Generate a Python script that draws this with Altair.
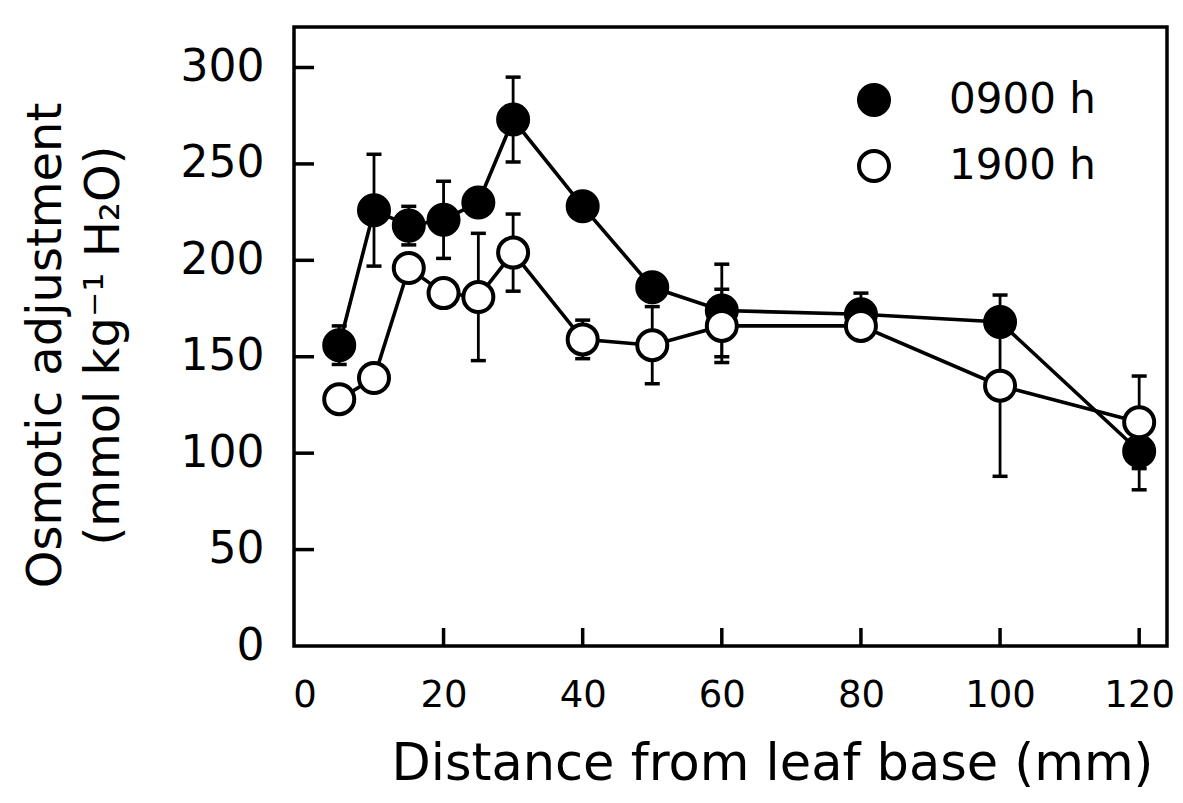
import altair as alt
import pandas as pd

# ---- data ----
distance = [5, 10, 15, 20, 25, 30, 40, 50, 60, 80, 100, 120]
am_mean = [156, 226, 218, 221, 230, 273, 228, 186, 174, 172, 168, 101]
am_err = [10, 29, 10, 20, 0, 22, 0, 0, 24, 11, 0, 20]
pm_mean = [128, 139, 196, 183, 181, 204, 159, 156, 166, 166, 135, 116]
pm_err = [0, 0, 0, 0, 33, 20, 10, 20, 19, 0, 47, 24]
series_names = ["0900 h", "1900 h"]
y_ticks = [50, 100, 150, 200, 250, 300]
x_ticks = [20, 40, 60, 80, 100, 120]

rows = []
for name, means, errs in [(series_names[0], am_mean, am_err), (series_names[1], pm_mean, pm_err)]:
    for d, m, e in zip(distance, means, errs):
        rows.append({"distance": d, "value": m, "err": e, "lo": m - e, "hi": m + e, "series": name})
df = pd.DataFrame(rows)
df_err = df[df["err"] > 0]

W, H = 873, 619
FONT = "DejaVu Sans"

xscale = alt.Scale(domain=[-1.5, 124], nice=False, zero=False)
yscale = alt.Scale(domain=[0, 321], nice=False, zero=False)

xaxis = alt.Axis(values=[0] + x_ticks, labelFontSize=37, labelFont=FONT, labelColor="black",
                 labelPadding=31, domain=False, ticks=False, tickSize=0, grid=False,
                 format="d", labelFlush=False,
                 title="Distance from leaf base (mm)", titleFont=FONT, titleFontSize=51,
                 titleFontWeight="normal", titleColor="black", titleX=478, titleY=133,
                 titleAlign="center", titleBaseline="alphabetic")
yaxis = alt.Axis(values=[0] + y_ticks, labelFontSize=44, labelFont=FONT, labelColor="black",
                 labelPadding=30, domain=False, ticks=False, tickSize=0, grid=False,
                 format="d", labelFlush=False,
                 title=["Osmotic adjustment", "(mmol kg\u207b\u00b9 H\u2082O)"], titleFont=FONT,
                 titleFontSize=48, titleFontWeight="normal", titleColor="black",
                 titleX=-248, titleY=318, titleAngle=270, titleAlign="center",
                 titleBaseline="middle", titleLineHeight=58)


def X(field):
    return alt.X(field, scale=xscale, axis=xaxis)


def Y(field):
    return alt.Y(field, scale=yscale, axis=yaxis)


base = alt.Chart(df)

lines = base.mark_line(color="black", strokeWidth=3.6).encode(
    x=X("distance:Q"), y=Y("value:Q"), detail="series:N",
)

err_rules = alt.Chart(df_err).mark_rule(color="black", strokeWidth=2.8).encode(
    x=X("distance:Q"), y=Y("lo:Q"), y2="hi:Q",
)
cap_lo = alt.Chart(df_err).mark_tick(color="black", orient="horizontal", size=15, thickness=3.5, opacity=1).encode(
    x=X("distance:Q"), y=Y("lo:Q"),
)
cap_hi = alt.Chart(df_err).mark_tick(color="black", orient="horizontal", size=15, thickness=3.5, opacity=1).encode(
    x=X("distance:Q"), y=Y("hi:Q"),
)

points = base.mark_point(shape="circle", filled=True, size=900, opacity=1,
                         stroke="black", strokeWidth=4).encode(
    x=X("distance:Q"), y=Y("value:Q"),
    fill=alt.Fill("series:N",
                  scale=alt.Scale(domain=series_names, range=["black", "white"]),
                  legend=alt.Legend(orient="none", legendX=559, legendY=52, title=None,
                                    labelFont=FONT, labelFontSize=42, labelColor="black",
                                    symbolType="circle", symbolSize=900,
                                    symbolStrokeColor="black", symbolStrokeWidth=4,
                                    symbolOpacity=1, rowPadding=20, labelOffset=54,
                                    padding=0)),
)

ytick_df = pd.DataFrame({"t": y_ticks})
xtick_df = pd.DataFrame({"t": x_ticks})
ytick_marks = alt.Chart(ytick_df).mark_rule(color="black", strokeWidth=3.5).encode(
    y=Y("t:Q"), x=alt.value(0), x2=alt.value(20),
)
xtick_marks = alt.Chart(xtick_df).mark_rule(color="black", strokeWidth=3.5).encode(
    x=X("t:Q"), y=alt.value(H), y2=alt.value(H - 18),
)

chart = alt.layer(lines, err_rules, cap_lo, cap_hi, points, ytick_marks, xtick_marks).properties(
    width=W, height=H,
    autosize=alt.AutoSizeParams(type="none"),
    padding={"left": 286, "top": 19, "right": 8, "bottom": 147},
    background="white",
).configure_view(stroke="black", strokeWidth=3.5)

chart.save("out.html", embed_options={"renderer": "svg", "actions": False})
